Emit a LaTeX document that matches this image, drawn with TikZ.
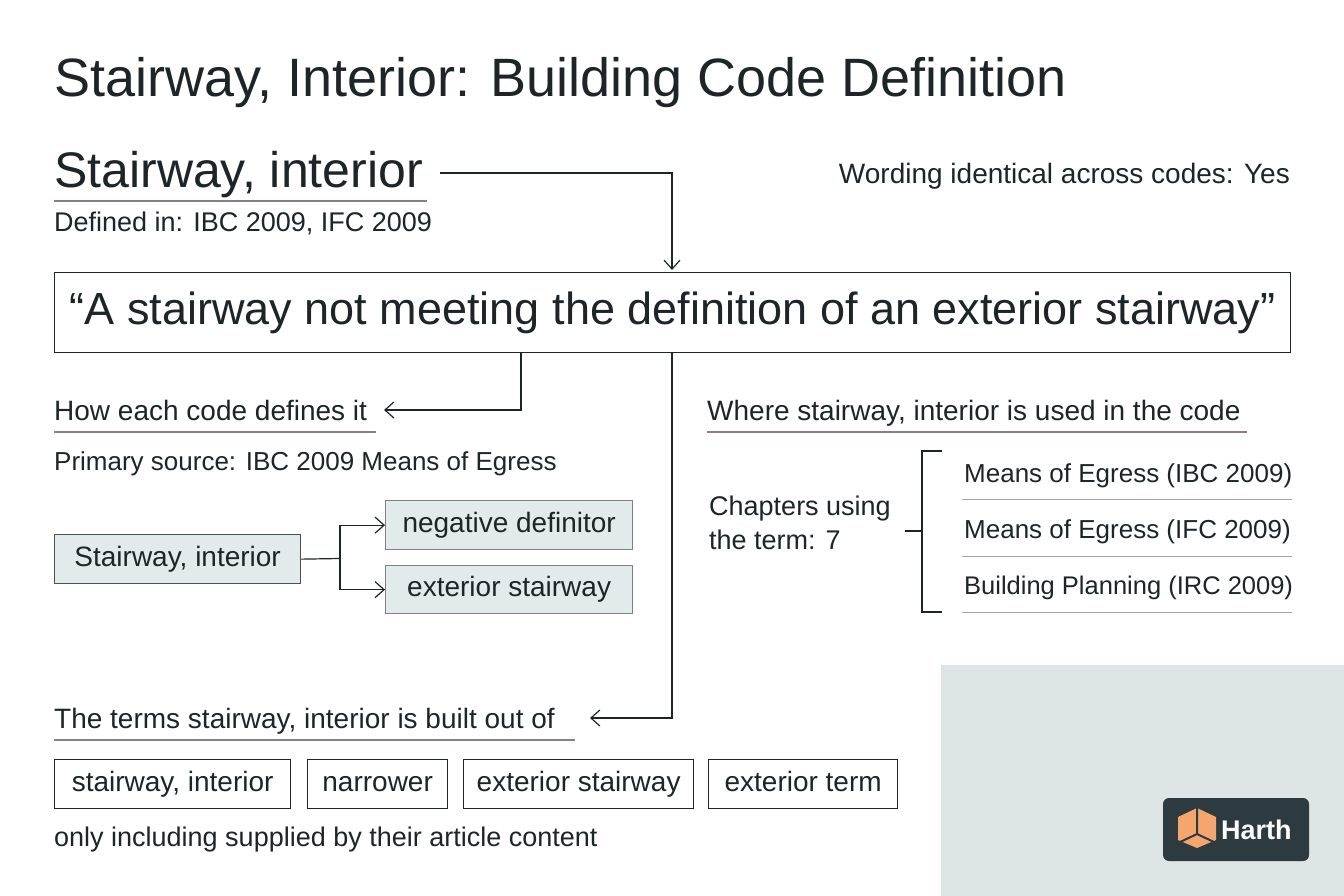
\documentclass[tikz,border=0pt]{standalone}
\usepackage{fontspec}
\setmainfont{Liberation Sans}
\usetikzlibrary{arrows.meta}
\definecolor{ink}{HTML}{1E2528}
\definecolor{ul}{HTML}{8E7C84}
\definecolor{boxf}{HTML}{E3EAEC}
\definecolor{panel}{HTML}{DDE5E7}
\definecolor{logo}{HTML}{2D3A3F}
\definecolor{cube}{HTML}{F5A66E}
\begin{document}
\begin{tikzpicture}[x=1pt,y=-1pt,
  txt/.style={anchor=base west,inner sep=0,text=ink},
  con/.style={draw=ink,line width=1.2pt},
  arr/.style={con,-{Straight Barb[length=9pt,width=16pt]}},
  uline/.style={draw=ul,line width=2.5pt},
  tb/.style={draw=ink,line width=1.3pt,minimum height=49pt,inner sep=0,text height=20pt,text depth=6pt,font=\fontsize{28}{30}\selectfont,text=ink,anchor=north west},
  gb/.style={tb,fill=boxf,draw=ink!80}]
\useasboundingbox (0,0) rectangle (1344,896);
\fill[white] (0,0) rectangle (1344,896);
\fill[panel] (941,665) rectangle (1344,896);
\node[txt,font=\fontsize{54}{58}\selectfont] (title) at (54,97) {Stairway, Interior: Building Code Definition};
\node[txt,font=\fontsize{50}{54}\selectfont] (term) at (54,188) {Stairway, interior};
\draw[uline] (54,201) -- (427,201);
\node[txt,font=\fontsize{27}{30}\selectfont] (def) at (54,232) {Defined in: IBC 2009, IFC 2009};
\node[anchor=base east,inner sep=0,text=ink,font=\fontsize{28}{30}\selectfont] (word) at (1290,184) {Wording identical across codes: Yes};
\node[draw=ink,line width=1.3pt,minimum width=1236pt,minimum height=80pt,anchor=north west,inner sep=0,font=\fontsize{45}{48}\selectfont,text=ink] (quote) at (54,272) {“A stairway not meeting the definition of an exterior stairway”};
\draw[arr] (440,173) -- (672,173) -- (672,270);
\node[txt,font=\fontsize{28}{30}\selectfont] (how) at (54,420) {How each code defines it};
\draw[uline] (54,432) -- (376,432);
\draw[arr] (521,352) -- (521,410) -- (384,410);
\node[txt,font=\fontsize{26}{30}\selectfont] (prim) at (54,470) {Primary source: IBC 2009 Means of Egress};
\node[gb,minimum width=246pt] (si) at (54,534) {Stairway, interior};
\node[gb,minimum width=247pt,draw=gray] (neg) at (385,500) {negative definitor};
\node[gb,minimum width=247pt,draw=gray,minimum height=48pt] (ext) at (385,565) {exterior stairway};
\draw[con] (si.east) -- (340,558.5);
\draw[arr] (340,558.5) |- (neg.west);
\draw[arr] (340,558.5) |- (ext.west);
\node[txt,font=\fontsize{28}{30}\selectfont] (where) at (707,420) {Where stairway, interior is used in the code};
\draw[uline] (707,432) -- (1247,432);
\node[txt,align=left,font=\fontsize{27}{34}\selectfont,anchor=north west] (chap) at (709,496) {Chapters using\\the term: 7};
\draw[con] (905,531) -- (922,531);
\draw[con] (942,451) -- (922,451) -- (922,612) -- (942,612);
\node[txt,font=\fontsize{26}{30}\selectfont] (c1) at (964,482) {Means of Egress (IBC 2009)};
\node[txt,font=\fontsize{26}{30}\selectfont] (c2) at (964,538) {Means of Egress (IFC 2009)};
\node[txt,font=\fontsize{25.5}{30}\selectfont] (c3) at (964,594) {Building Planning (IRC 2009)};
\draw[draw=gray!70,line width=1pt] (962,499) -- (1292,499) (962,556) -- (1292,556) (962,612) -- (1292,612);
\node[txt,font=\fontsize{28}{30}\selectfont] (terms) at (54,728) {The terms stairway, interior is built out of};
\draw[uline] (54,740) -- (575,740);
\draw[arr] (672,352) -- (672,718) -- (590,718);
\node[tb,minimum width=236pt] (b1) at (54,759) {stairway, interior};
\node[tb,minimum width=140pt] (b2) at (307,759) {narrower};
\node[tb,minimum width=230pt] (b3) at (463,759) {exterior stairway};
\node[tb,minimum width=189pt] (b4) at (708,759) {exterior term};
\node[txt,font=\fontsize{27}{30}\selectfont] (foot) at (54,846) {only including supplied by their article content};
\fill[logo,rounded corners=6pt] (1163,798) rectangle (1309,861);
\fill[cube] (1178,817) -- (1197,808) -- (1216,817) -- (1216,840) -- (1197,848) -- (1178,840) -- cycle;
\draw[logo,line width=2pt] (1197,808) -- (1197,834) -- (1178,843) (1197,834) -- (1216,843);
\node[anchor=west,inner sep=0,text=white,font=\bfseries\fontsize{27}{28}\selectfont] (hl) at (1221,830) {Harth};
\end{tikzpicture}
\end{document}
